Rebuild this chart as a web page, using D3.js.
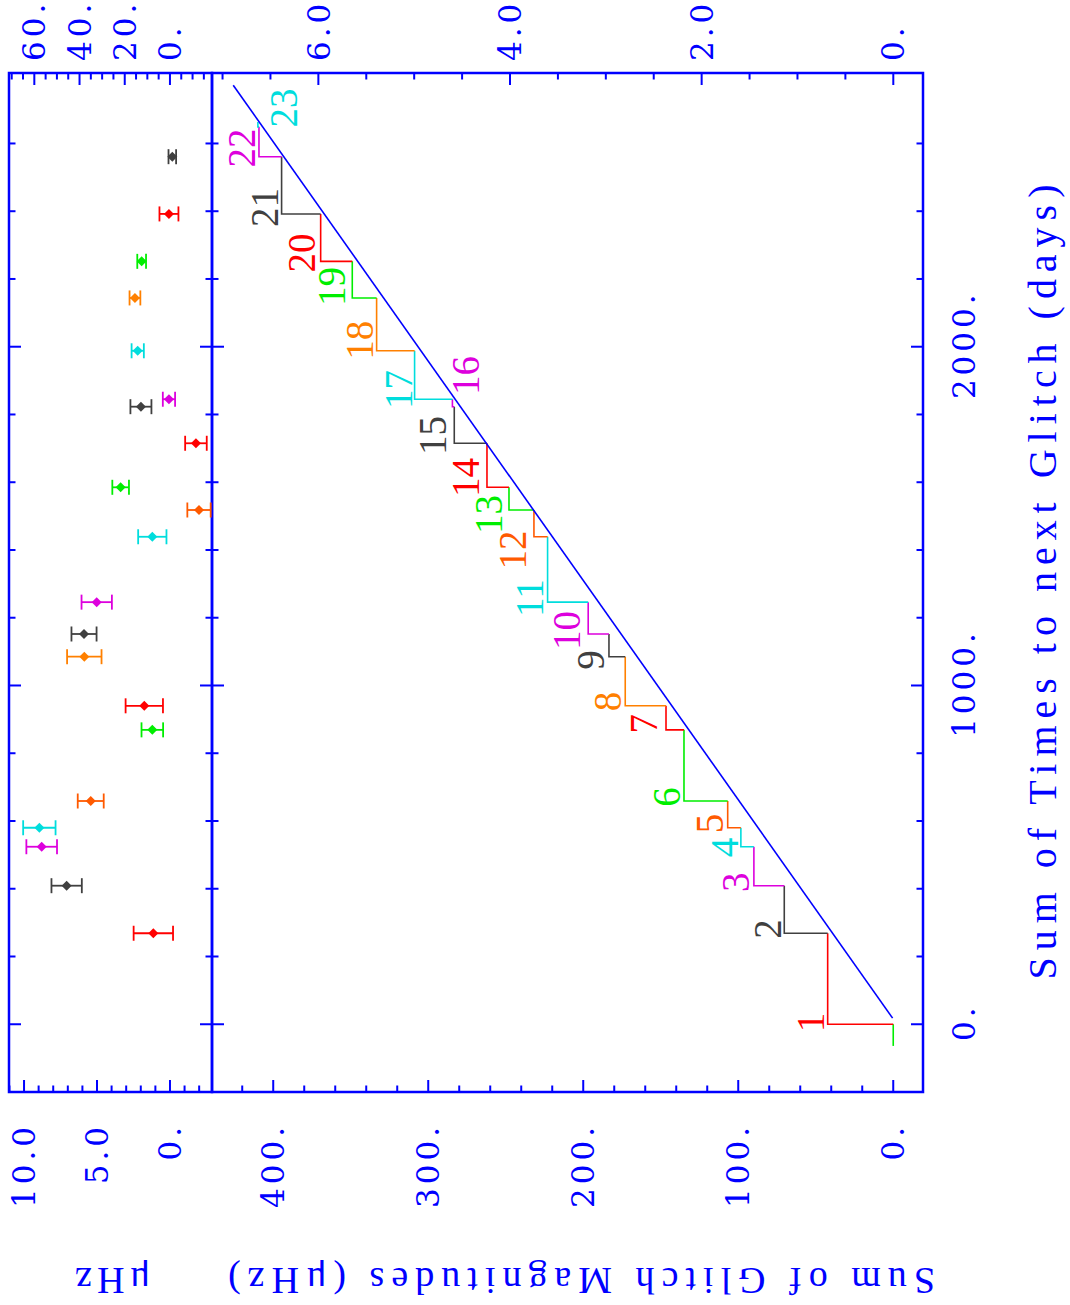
<!DOCTYPE html>
<html><head><meta charset="utf-8">
<script src="https://cdn.jsdelivr.net/npm/d3@7"></script>
<style>body{margin:0;background:#fff}svg{display:block}</style>
</head><body>
<svg id="c" width="1070" height="1305"></svg>
<script>
// ---------- data ----------
const glitchNo   = [1,2,3,4,5,6,7,8,9,10,11,12,13,14,15,16,17,18,19,20,21,22,23];
const glitchDays = [0,268.6,409,524,580,659,869,940,1085,1152,1246,1439,1518,1585,1715,1823,1845,1988,2144,2252,2392,2561,2649];
const cumMag     = [42.3,70.3,89.9,98.3,106.8,135.0,146.6,172.9,183.4,196.8,223.0,231.8,247.9,262.1,283.2,284.4,308.8,333.3,349.0,369.4,394.6,409.2,409.9];
const glitchColor= ["#ff0000","#404040","#dd00dd","#00dddd","#ff5a00","#00ee00","#ff0000","#ff8000","#404040","#dd00dd","#00dddd","#ff5a00","#00ee00","#ff0000","#404040","#dd00dd","#00dddd","#ff8000","#00ee00","#ff0000","#404040","#dd00dd","#00dddd"];
const startDays  = [-64, 0];          // initial (pre-glitch) segment, at 0 uHz
const startColor = "#00ee00";
const lastDay    = 2663;              // end of the last step
const labelDays  = [5,281,419,522,593,671,887,953,1075,1162,1258,1400,1505,1614,1738,1915,1874,2019,2178,2277,2411,2587,2705];
const labelMag   = [53.4,80.8,101.7,108.9,118.6,146.0,160.8,184.1,195.3,210.5,234.4,245.3,260.8,275.7,297.3,276.0,319.2,344.1,362.4,381.5,405.3,420.2,393.4];
const fitDays    = [18, 2772];
const fitMag     = [0.4, 425.8];
// upper strip: one point per glitch (1..21), at the time of the following glitch
const stripDays  = [268.6,409,524,580,659,869,940,1085,1152,1246,1439,1518,1585,1715,1823,1845,1988,2144,2252,2392,2561];
const stripVal   = [1.14,7.08,8.79,8.95,5.43,1.21,1.76,5.87,5.89,5.02,1.21,-1.99,3.38,-1.78,1.99,0.07,2.21,2.40,1.94,0.07,-0.16];
const stripErr   = [1.35,1.04,1.05,1.11,0.89,0.74,1.28,1.18,0.86,1.04,0.97,0.80,0.57,0.74,0.72,0.42,0.42,0.37,0.30,0.65,0.26];
// ticks
const xMajor = [0,1000,2000], xMajorLabels = ["0.","1000.","2000."];
const xMinor = [200,400,600,800,1200,1400,1600,1800,2200,2400,2600];
const yMainMajor = [0,100,200,300,400], yMainLabels = ["0.","100.","200.","300.","400."];
const yMainMinor = [20,40,60,80,120,140,160,180,220,240,260,280,320,340,360,380,420];
const yRMajor = [0,2,4,6], yRLabels = ["0.","2.0","4.0","6.0"];
const yRMinor = [0.5,1,1.5,2.5,3,3.5,4.5,5,5.5,6.5,7];
const sMajor = [0,5,10], sLabels = ["0.","5.0","10.0"];
const sMinor = [-2,-1,1,2,3,4,6,7,8,9,11];
const sRMajor = [0,20,40,60], sRLabels = ["0.","20.","40.","60."];
const sRMinor = [-15,-10,-5,5,10,15,25,30,35,45,50,55,65,70];
const xTitle = "Sum of Times to next Glitch (days)";
const yTitle = "Sum of Glitch Magnitudes (\u03bcHz)";
const sTitle = "\u03bcHz";

// ---------- layout (landscape, then rotated) ----------
const L = 213, R = 1232, sTop = 9, sBot = 212, mBot = 923;
const BLUE = "#0000ff";
const svg = d3.select("#c");
svg.append("rect").attr("width",1070).attr("height",1305).attr("fill","#fff");
const g = svg.append("g").attr("transform","translate(0,1305) rotate(-90)");

const x  = d3.scaleLinear().domain([-200, 2808]).range([L, R]);
const yM = d3.scaleLinear().domain([-19.2, 439.5]).range([mBot, sBot]);
const yMR= d3.scaleLinear().domain([-0.31, 7.11]).range([mBot, sBot]);
const yS = d3.scaleLinear().domain([-2.88, 11.03]).range([sBot, sTop]);
const ySR= d3.scaleLinear().domain([-18.6, 71.2]).range([sBot, sTop]);

const MAJ = 12, MIN = 6.5;
const tk = g.append("g").attr("stroke",BLUE).attr("stroke-width",2);
function vTicks(vals, len, y0, dir){
  vals.forEach(d=>tk.append("line").attr("x1",x(d)).attr("x2",x(d)).attr("y1",y0).attr("y2",y0+dir*len));
}
function hTicks(scale, vals, len, x0, dir){
  vals.forEach(d=>tk.append("line").attr("y1",scale(d)).attr("y2",scale(d)).attr("x1",x0).attr("x2",x0+dir*len));
}
vTicks(xMajor,MAJ,sTop,1); vTicks(xMinor,MIN,sTop,1);
vTicks(xMajor,MAJ,sBot,-1); vTicks(xMinor,MIN,sBot,-1);
vTicks(xMajor,MAJ,sBot,1); vTicks(xMinor,MIN,sBot,1);
vTicks(xMajor,MAJ,mBot,-1); vTicks(xMinor,MIN,mBot,-1);
hTicks(yM,yMainMajor,MAJ,L,1); hTicks(yM,yMainMinor,MIN,L,1);
hTicks(yMR,yRMajor,MAJ,R,-1); hTicks(yMR,yRMinor,MIN,R,-1);
hTicks(yS,sMajor,MAJ,L,1); hTicks(yS,sMinor,MIN,L,1);
hTicks(ySR,sRMajor,MAJ,R,-1); hTicks(ySR,sRMinor,MIN,R,-1);

// frames
g.append("rect").attr("x",L).attr("y",sTop).attr("width",R-L).attr("height",sBot-sTop)
  .attr("fill","none").attr("stroke",BLUE).attr("stroke-width",2.5);
g.append("rect").attr("x",L).attr("y",sBot).attr("width",R-L).attr("height",mBot-sBot)
  .attr("fill","none").attr("stroke",BLUE).attr("stroke-width",2.5);

// tick labels
const TF = "'DejaVu Serif', 'Liberation Serif', serif";
const lab = g.append("g").attr("fill",BLUE).attr("font-family",TF).attr("font-size",31).attr("letter-spacing","4px");
xMajor.forEach((d,i)=>lab.append("text").attr("x",x(d)+2).attr("y",975).attr("text-anchor","middle").text(xMajorLabels[i]));
yMainMajor.forEach((d,i)=>lab.append("text").attr("x",182).attr("y",yM(d)).attr("dy","0.36em").attr("text-anchor","end").text(yMainLabels[i]));
sMajor.forEach((d,i)=>lab.append("text").attr("x",182).attr("y",yS(d)).attr("dy","0.36em").attr("text-anchor","end").text(sLabels[i]));
yRMajor.forEach((d,i)=>lab.append("text").attr("x",1244).attr("y",yMR(d)).attr("dy","0.36em").attr("text-anchor","start").text(yRLabels[i]));
sRMajor.forEach((d,i)=>lab.append("text").attr("x",1244).attr("y",ySR(d)).attr("dy","0.36em").attr("text-anchor","start").text(sRLabels[i]));

// titles (serif, widely spaced like the original)
const SF = "'Liberation Serif', 'DejaVu Serif', serif";
g.append("text").attr("x",(L+R)/2 - 397).attr("y",1056)
  .attr("textLength",795).attr("lengthAdjust","spacing")
  .attr("font-family",SF).attr("font-size",40).attr("fill",BLUE).text(xTitle);
g.append("text").attr("transform",`translate(37,935) rotate(-90)`)
  .attr("textLength",707).attr("lengthAdjust","spacing")
  .attr("font-family",SF).attr("font-size",38).attr("fill",BLUE).text(yTitle);
g.append("text").attr("transform",`translate(37,150) rotate(-90)`)
  .attr("textLength",75).attr("lengthAdjust","spacing")
  .attr("font-family",SF).attr("font-size",38).attr("fill",BLUE).text(sTitle);

const plot = g.append("g");
plot.append("path").attr("d",d3.line()([[x(startDays[0]),yM(0)],[x(startDays[1]),yM(0)]]))
  .attr("stroke",startColor).attr("stroke-width",1.6).attr("fill","none");
glitchDays.forEach((t,i)=>{
  const prev = i===0 ? 0 : cumMag[i-1];
  const next = i<glitchDays.length-1 ? glitchDays[i+1] : lastDay;
  plot.append("path")
    .attr("d",d3.line()([[x(t),yM(prev)],[x(t),yM(cumMag[i])],[x(next),yM(cumMag[i])]]))
    .attr("stroke",glitchColor[i]).attr("stroke-width",1.6).attr("fill","none");
});
plot.append("path").attr("d",d3.line()(fitDays.map((d,i)=>[x(d),yM(fitMag[i])])))
  .attr("stroke",BLUE).attr("stroke-width",1.6).attr("fill","none");
glitchNo.forEach((n,i)=>plot.append("text").attr("x",x(labelDays[i])).attr("y",yM(labelMag[i]))
  .attr("dy","0.34em").attr("text-anchor","middle").attr("font-family","'Liberation Serif', serif")
  .attr("font-size",39).attr("fill",glitchColor[i]).text(n));

const pts = g.append("g");
stripDays.forEach((d,i)=>{
  const c = glitchColor[i], cx = x(d);
  const y1 = yS(stripVal[i]-stripErr[i]), y2 = yS(stripVal[i]+stripErr[i]);
  pts.append("line").attr("x1",cx).attr("x2",cx).attr("y1",y1).attr("y2",y2).attr("stroke",c).attr("stroke-width",1.8);
  [y1,y2].forEach(yy=>pts.append("line").attr("x1",cx-7.5).attr("x2",cx+7.5).attr("y1",yy).attr("y2",yy).attr("stroke",c).attr("stroke-width",1.8));
  pts.append("path").attr("transform",`translate(${cx},${yS(stripVal[i])})`)
    .attr("d","M0,-5L5,0L0,5L-5,0Z").attr("fill",c);
});
</script>
</body></html>
